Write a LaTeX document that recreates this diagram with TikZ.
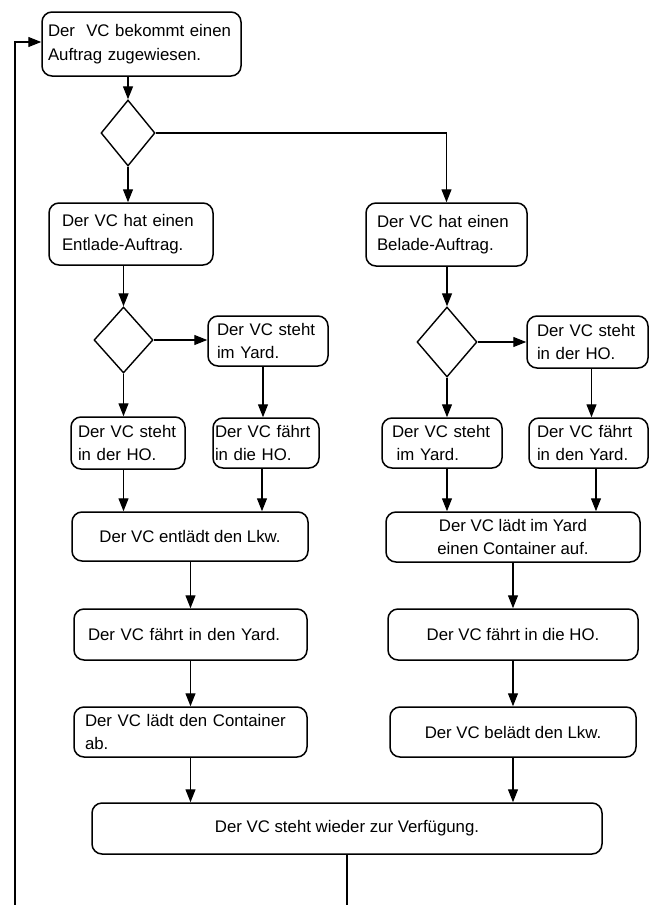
\documentclass[tikz,border=0pt]{standalone}
\usepackage{fontspec}
\setmainfont{Liberation Sans}
\usetikzlibrary{arrows.meta,shapes.geometric}

\tikzset{
  every node/.style={font=\fontsize{16.8}{23.5}\selectfont},
  % rounded activity box: #1 = width, #2 = height
  act/.style 2 args={draw, line width=1.5pt, rounded corners=10pt,
    minimum width=#1, minimum height=#2, inner ysep=0pt, align=center},
  % left-aligned variant: #1 = width, #2 = height, #3 = left padding
  actl/.style n args={3}{draw, line width=1.5pt, rounded corners=10pt,
    minimum height=#2, inner ysep=0pt, inner xsep=#3,
    text width=#1-2*#3, align=left},
  decision/.style 2 args={draw, line width=1.4pt, diamond, inner sep=0pt,
    minimum width=#1, minimum height=#2},
  arr/.style={line width=1.3pt, -{Triangle[length=13pt,width=10pt]}},
  ln/.style={line width=1.3pt}
}

\begin{document}
\begin{tikzpicture}[x=1pt, y=-1pt]
\useasboundingbox (0,0) rectangle (650,905);

% start and first decision
\node[actl={199pt}{64pt}{6pt}] (b1) at (141.5,44) {Der\ \ VC bekommt einen\\Auftrag zugewiesen.};
\node[decision={54pt}{66pt}] (d1) at (128,133) {};

% unloading branch
\node[actl={164pt}{62pt}{13pt}] (ent) at (131,234) {Der VC hat einen\\Entlade-Auftrag.};
\node[decision={59pt}{66pt}] (d2) at (123.5,340) {};
\node[actl={120pt}{50pt}{9pt}] (yardL) at (268,341) {Der VC steht\\im Yard.};
\node[actl={114pt}{52pt}{7pt}] (hoL) at (128,443) {Der VC steht\\in der HO.};
\node[actl={106pt}{50pt}{2pt}] (fhoL) at (266,443) {Der VC fährt\\in die HO.};
\node[act={236pt}{49pt}] (entl) at (190,536.5) {Der VC entlädt den Lkw.};
\node[actl={233pt}{51pt}{14pt}] (fyL) at (190.5,634.5) {Der VC fährt in den Yard.};
\node[actl={233pt}{50pt}{11pt}] (ctrL) at (190.5,732) {Der VC lädt den Container\\ab.};

% loading branch
\node[actl={161pt}{63pt}{11pt}] (bel) at (446.5,234.5) {Der VC hat einen\\Belade-Auftrag.};
\node[decision={60pt}{70pt}] (d3) at (447,342) {};
\node[actl={121pt}{52pt}{10pt}] (hoR) at (587.5,342) {Der VC steht\\in der HO.};
\node[actl={120pt}{50pt}{10pt}] (yardR) at (442,443) {Der VC steht\\\hspace*{0.28em}im Yard.};
\node[actl={119pt}{50pt}{8pt}] (fyR) at (588.5,443) {Der VC fährt\\in den Yard.};
\node[act={254pt}{50pt}] (lad) at (513,537) {Der VC lädt im Yard\\einen Container auf.};
\node[act={250pt}{51pt}] (fhoR) at (513,634.5) {Der VC fährt in die HO.};
\node[act={246pt}{50pt}] (bel2) at (513,732) {Der VC belädt den Lkw.};

% end
\node[act={510pt}{51pt}] (fin) at (347,828.5) {Der VC steht wieder zur Verfügung.};

\coordinate (endA) at (348,905);
\coordinate (loopB) at (15,905);

% connectors: top part
\draw[arr] (d1.north |- b1.south) -- (d1.north);
\draw[arr] (d1.south) -- (d1.south |- ent.north);
\draw[arr] (d1.east) -| (bel.north);

% connectors: unloading branch
\draw[arr] (d2.north |- ent.south) -- (d2.north);
\draw[arr] (d2.east) -- (d2.east -| yardL.west);
\draw[arr] (d2.south) -- (d2.south |- hoL.north);
\draw[arr] ([xshift=-3pt]fhoL.north |- yardL.south) -- ([xshift=-3pt]fhoL.north);
\draw[arr] (d2.south |- hoL.south) -- (d2.south |- entl.north);
\draw[arr] ([xshift=-4pt]fhoL.south) -- ([xshift=-4pt]fhoL.south |- entl.north);
\draw[arr] (fyL.north |- entl.south) -- (fyL.north);
\draw[arr] (fyL.south) -- (ctrL.north);
\draw[arr] (ctrL.south) -- (ctrL.south |- fin.north);

% connectors: loading branch
\draw[arr] (d3.north |- bel.south) -- (d3.north);
\draw[arr] (d3.east) -- (d3.east -| hoR.west);
\draw[arr] (d3.south) -- (d3.south |- yardR.north);
\draw[arr] ([xshift=4pt]hoR.south) -- ([xshift=4pt]hoR.south |- fyR.north);
\draw[arr] (d3.south |- yardR.south) -- (d3.south |- lad.north);
\draw[arr] ([xshift=7.5pt]fyR.south) -- ([xshift=7.5pt]fyR.south |- lad.north);
\draw[arr] (lad.south) -- (fhoR.north);
\draw[arr] (fhoR.south) -- (bel2.north);
\draw[arr] (bel2.south) -- (bel2.south |- fin.north);

% return loop
\draw[ln] (fin.south) -- (fin.south |- endA);
\draw[arr] (loopB) |- ([yshift=2pt]b1.west);
\end{tikzpicture}
\end{document}
